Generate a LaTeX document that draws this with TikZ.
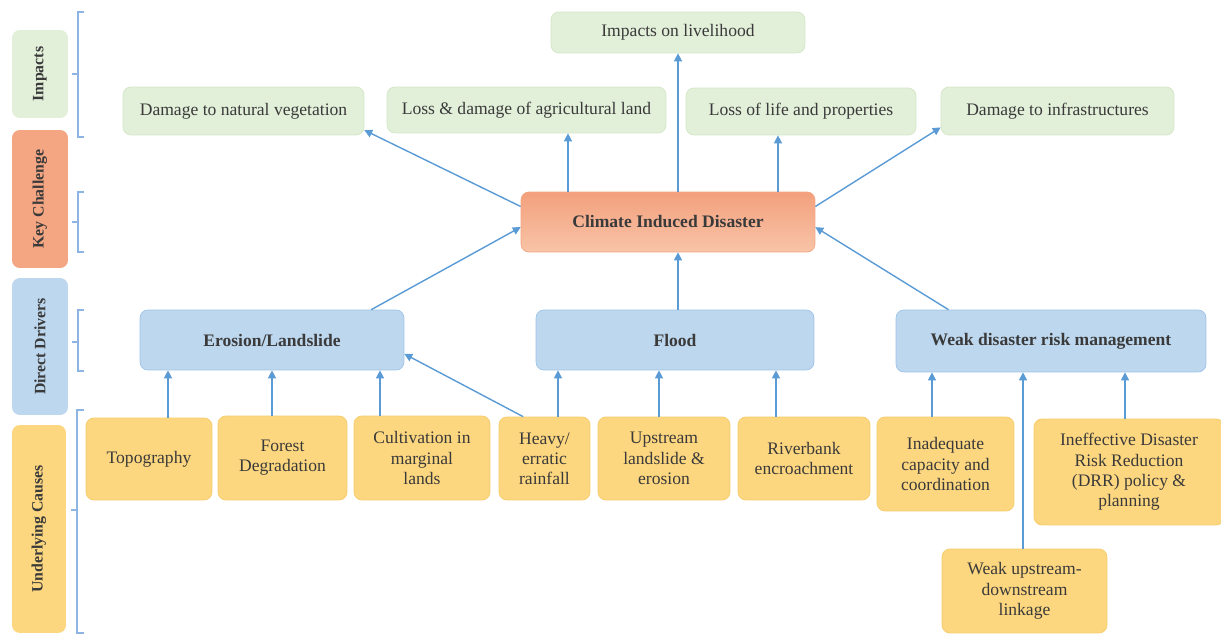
\documentclass[tikz,border=0pt]{standalone}
\usepackage{fontspec}
\setmainfont{Liberation Serif}
\usetikzlibrary{arrows.meta}

\definecolor{txt}{HTML}{3A3A3A}
\definecolor{grn}{HTML}{E2EFD9}
\definecolor{grnd}{HTML}{D3E6C6}
\definecolor{slm}{HTML}{F4A582}
\definecolor{slmtop}{HTML}{F3A07C}
\definecolor{slmbot}{HTML}{F8C4A8}
\definecolor{blu}{HTML}{BDD7EE}
\definecolor{blud}{HTML}{9DC3E6}
\definecolor{ylw}{HTML}{FDD77F}
\definecolor{ylwd}{HTML}{F6CB6A}
\definecolor{arr}{HTML}{5B9BD5}
\definecolor{brk}{HTML}{8DB4E2}

\begin{document}
\begin{tikzpicture}[x=0.02cm, y=-0.02cm,
    box/.style={rounded corners=4.5pt, align=center, inner sep=2pt, text=txt,
      font=\fontsize{10}{11.5}\selectfont},
    impact/.style={box, fill=grn, draw=grnd},
    challenge/.style={box, draw=slm, top color=slmtop, bottom color=slmbot,
      font=\fontsize{10}{11.5}\selectfont\bfseries},
    driver/.style={box, fill=blu, draw=blud, font=\fontsize{10}{11.5}\selectfont\bfseries},
    cause/.style={box, fill=ylw, draw=ylwd},
    level/.style={box, rotate=90, minimum height=1.12cm, font=\fontsize{9}{11}\selectfont\bfseries},
    link/.style={draw=arr, line width=0.8pt, -{Triangle[length=4.5pt, width=4.5pt]}},
    bracket/.style={draw=brk, line width=0.6pt}]
    \useasboundingbox (0,0) rectangle (1221,635);

    % Level labels on the left
    \node[level, fill=grn, minimum width=1.76cm] (lvimp) at (40,74) {Impacts};
    \node[level, fill=slm, minimum width=2.76cm] (lvkey) at (40,199) {Key Challenge};
    \node[level, fill=blu, minimum width=2.74cm] (lvdrv) at (40,346.5) {Direct Drivers};
    \node[level, fill=ylw, minimum height=1.08cm, minimum width=4.16cm] (lvcau) at (39,529) {Underlying Causes};

    % Brackets
    \draw[bracket] (84,12) -- (78,12) -- (78,137) -- (84,137) (78,74) -- (72,74);
    \draw[bracket] (84,192) -- (78,192) -- (78,252) -- (84,252) (78,222) -- (72,222);
    \draw[bracket] (84,310) -- (78,310) -- (78,371) -- (84,371) (78,342) -- (72,342);
    \draw[bracket] (84,410) -- (77,410) -- (77,633) -- (84,633) (77,510) -- (71,510);

    % Impacts
    \node[impact, minimum width=4.82cm, minimum height=0.96cm] (veg) at (243.5,111) {Damage to natural vegetation};
    \node[impact, minimum width=5.58cm, minimum height=0.92cm] (agri) at (526.5,110) {Loss \& damage of agricultural land};
    \node[impact, minimum width=5.08cm, minimum height=0.82cm] (live) at (678,32.5) {Impacts on livelihood};
    \node[impact, minimum width=4.60cm, minimum height=0.94cm] (life) at (801,111.5) {Loss of life and properties};
    \node[impact, minimum width=4.66cm, minimum height=0.96cm] (infra) at (1057.5,111) {Damage to infrastructures};

    % Key challenge
    \node[challenge, minimum width=5.88cm, minimum height=1.2cm] (cid) at (668,222) {Climate Induced Disaster};

    % Direct drivers
    \node[driver, minimum width=5.28cm, minimum height=1.2cm] (eros) at (272,340) {Erosion/Landslide};
    \node[driver, minimum width=5.56cm, minimum height=1.2cm] (flood) at (675,340) {Flood};
    \node[driver, minimum width=6.2cm, minimum height=1.24cm] (wdrm) at (1051,341) {Weak disaster risk management};

    % Underlying causes
    \node[cause, minimum width=2.52cm, minimum height=1.64cm] (topo) at (149,459) {Topography};
    \node[cause, minimum width=2.58cm, minimum height=1.68cm] (forest) at (282.5,458) {Forest\\Degradation};
    \node[cause, minimum width=2.72cm, minimum height=1.68cm] (cult) at (422,458) {Cultivation in\\marginal\\lands};
    \node[cause, minimum width=1.82cm, minimum height=1.66cm] (rain) at (544.5,458.5) {Heavy/\\erratic\\rainfall};
    \node[cause, minimum width=2.64cm, minimum height=1.66cm] (upst) at (664,458.5) {Upstream\\landslide \&\\erosion};
    \node[cause, minimum width=2.64cm, minimum height=1.66cm] (river) at (804,458.5) {Riverbank\\encroachment};
    \node[cause, minimum width=2.74cm, minimum height=1.88cm] (inadq) at (945.5,464) {Inadequate\\capacity and\\coordination};
    \node[cause, minimum width=3.8cm, minimum height=2.12cm] (ineff) at (1129,472) {Ineffective Disaster\\Risk Reduction\\(DRR) policy \&\\planning};
    \node[cause, minimum width=3.3cm, minimum height=1.68cm] (weak) at (1024.5,591) {Weak upstream-\\downstream\\linkage};

    % Disaster to impacts
    \draw[link] (cid.174) -- (veg.-9);
    \draw[link] (568,0 |- cid.north) -- (568,0 |- agri.south);
    \draw[link] (678,0 |- cid.north) -- (678,0 |- live.south);
    \draw[link] (778,0 |- cid.north) -- (778,0 |- life.south);
    \draw[link] (cid.6) -- (infra.188);

    % Drivers to disaster
    \draw[link] (eros.17) -- (cid.182);
    \draw[link] (678,0 |- flood.north) -- (678,0 |- cid.south);
    \draw[link] (wdrm.163) -- (cid.-2);

    % Causes to drivers
    \draw[link] (168,0 |- topo.north) -- (168,0 |- eros.south);
    \draw[link] (272,0 |- forest.north) -- (272,0 |- eros.south);
    \draw[link] (380,0 |- cult.north) -- (380,0 |- eros.south);
    \draw[link] (rain.117) -- (eros.-6);
    \draw[link] (558,0 |- rain.north) -- (558,0 |- flood.south);
    \draw[link] (659,0 |- upst.north) -- (659,0 |- flood.south);
    \draw[link] (776,0 |- river.north) -- (776,0 |- flood.south);
    \draw[link] (932,0 |- inadq.north) -- (932,0 |- wdrm.south);
    \draw[link] (1023,0 |- weak.north) -- (1023,0 |- wdrm.south);
    \draw[link] (1125,0 |- ineff.north) -- (1125,0 |- wdrm.south);
\end{tikzpicture}
\end{document}
